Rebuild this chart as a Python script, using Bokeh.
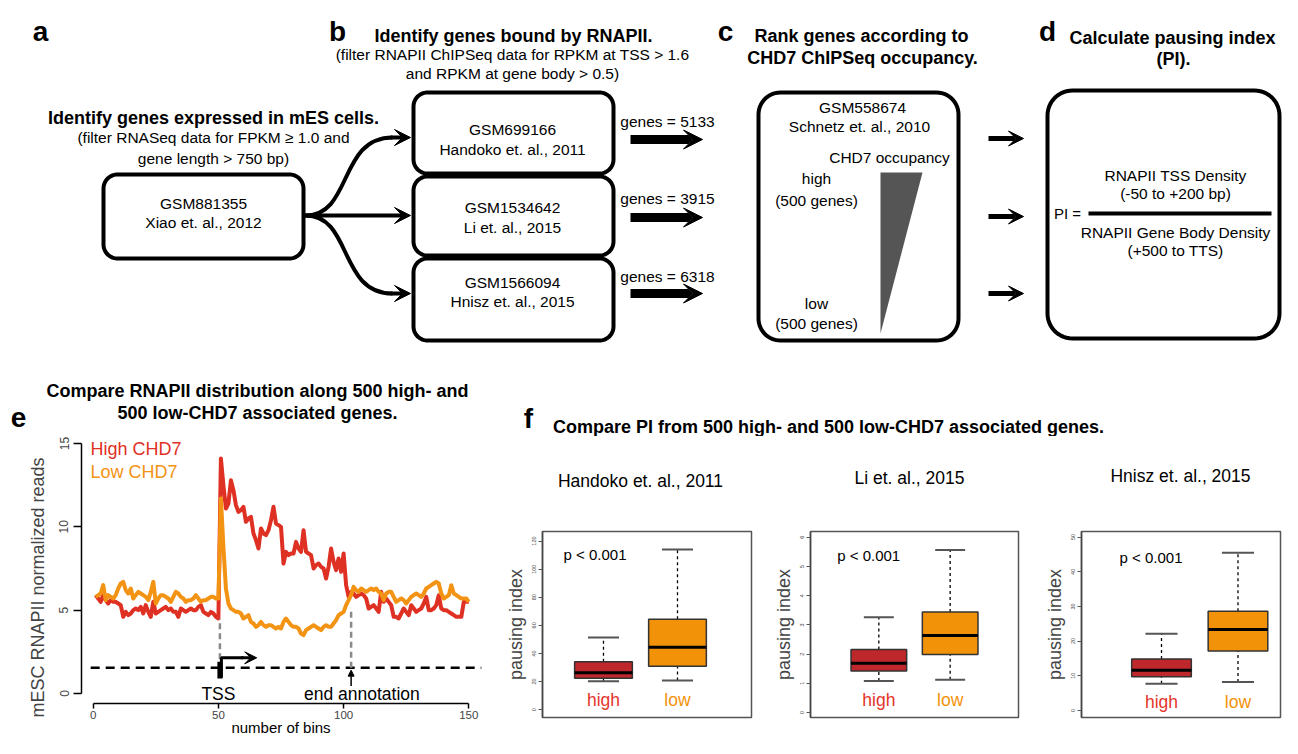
import numpy as np
from bokeh.plotting import figure
from bokeh.layouts import column, row
from bokeh.models import Range1d, Arrow, VeeHead, NormalHead, FixedTicker
from bokeh.embed import file_html
from bokeh.resources import INLINE
from bokeh.core.properties import value

FONT = "Liberation Sans"
RED = "#DF3024"
ORANGE = "#F39313"
BOX_HIGH = "#BE272B"
BOX_LOW = "#F29209"
TXT_HIGH = "#E4352B"

# ---------------- data: panel a-d ----------------
rna_dataset = ["GSM881355", "Xiao et. al., 2012"]
pol2_ids = ["GSM699166", "GSM1534642", "GSM1566094"]
pol2_refs = ["Handoko et. al., 2011", "Li et. al., 2015", "Hnisz et. al., 2015"]
gene_counts = [5133, 3915, 6318]

# ---------------- data: panel e ----------------
bins = list(range(1, 151))
high_chd7 = [
    5.9, 5.7, 5.5, 5.9, 5.6, 5.4, 5.6, 5.5, 5.5, 5.4,
    5.3, 4.6, 4.9, 4.7, 4.8, 5.0, 5.1, 5.0, 5.2, 4.8,
    5.3, 4.9, 4.6, 5.5, 4.8, 4.9, 5.0, 5.1, 5.2, 5.0,
    5.1, 4.9, 4.9, 4.6, 5.1, 5.0, 4.9, 5.0, 5.1, 5.0,
    5.0, 5.2, 5.3, 4.9, 4.8, 4.7, 4.9, 4.8, 4.6, 4.5,
    14.1, 12.5, 11.1, 11.4, 12.8, 12.2, 11.3, 10.9, 11.0, 11.2,
    10.3, 10.5, 10.6, 9.6, 9.2, 8.7, 9.9, 9.6, 9.5, 9.8,
    10.4, 11.2, 10.2, 10.1, 10.0, 7.8, 8.5, 8.3, 8.4, 8.4,
    9.1, 8.7, 8.5, 9.8, 8.5, 8.4, 8.3, 7.5, 7.7, 7.8,
    7.6, 7.5, 6.9, 7.6, 8.7, 7.9, 7.4, 8.1, 7.3, 8.4,
    6.5, 5.8, 6.1, 6.0, 5.8, 5.9, 6.0, 5.9, 5.7, 5.1,
    5.2, 5.3, 5.1, 4.9, 6.1, 5.5, 5.7, 5.5, 5.3, 4.6,
    4.6, 4.5, 4.8, 5.1, 4.9, 4.7, 5.3, 5.1, 4.9, 5.0,
    5.1, 5.4, 5.8, 5.0, 5.0, 5.1, 5.3, 5.9, 5.1, 5.0,
    5.0, 4.9, 4.8, 4.7, 4.6, 4.6, 4.6, 5.5, 5.5, 5.5,
]
low_chd7 = [
    5.8, 5.9, 6.0, 6.5, 5.6, 5.9, 5.8, 5.7, 5.9, 6.3,
    6.6, 6.7, 6.2, 6.0, 6.3, 5.7, 5.9, 6.1, 6.0, 5.9,
    5.8, 5.6, 6.1, 6.7, 5.4, 5.7, 5.9, 5.9, 5.8, 5.7,
    5.5, 5.8, 6.1, 6.0, 5.8, 5.7, 5.5, 5.6, 5.6, 5.7,
    5.9, 5.7, 5.5, 5.6, 5.6, 5.7, 5.8, 5.8, 5.7, 5.7,
    11.7, 8.8, 6.3, 5.4, 5.1, 5.0, 4.9, 4.9, 4.8, 4.5,
    4.6, 4.7, 4.3, 4.2, 4.0, 4.1, 4.3, 4.1, 4.0, 4.1,
    4.1, 4.0, 3.9, 4.0, 3.9, 4.3, 4.5, 4.3, 4.1, 4.0,
    4.0, 3.9, 3.6, 3.5, 3.8, 3.9, 4.0, 4.1, 4.0, 3.9,
    3.8, 4.0, 4.1, 4.0, 4.0, 4.2, 4.4, 4.7, 4.8, 4.9,
    5.3, 5.6, 5.9, 6.4, 6.2, 6.1, 6.3, 6.2, 6.1, 6.2,
    6.3, 6.2, 6.3, 6.1, 6.0, 5.6, 6.0, 6.1, 6.1, 5.8,
    5.5, 5.6, 5.7, 5.6, 5.4, 5.6, 5.8, 5.9, 6.0, 5.9,
    5.8, 6.0, 6.3, 6.4, 6.5, 6.6, 6.7, 6.6, 6.0, 5.7,
    5.8, 5.9, 6.5, 6.0, 5.9, 5.8, 5.7, 5.7, 5.7, 5.5,
]
tss_bin = 51
end_bin = 103
baseline_level = 1.55
e_xticks = [0, 50, 100, 150]
e_yticks = [0, 5, 10, 15]

# ---------------- data: panel f ----------------
pi_datasets = ["Handoko et. al., 2011", "Li et. al., 2015", "Hnisz et. al., 2015"]
pi_groups = ["high", "low"]
pi_whisker_low = [[20.2, 20.7], [1.08, 1.12], [7.7, 8.2]]
pi_q1 = [[22.3, 30.8], [1.42, 1.99], [9.7, 17.1]]
pi_median = [[26.3, 44.4], [1.69, 2.64], [11.6, 23.3]]
pi_q3 = [[34.0, 64.4], [2.16, 3.44], [14.8, 28.6]]
pi_whisker_high = [[51.4, 114.0], [3.26, 5.57], [22.1, 45.5]]
pi_yticks = [[0, 20, 40, 60, 80, 100, 120], [0, 1, 2, 3, 4, 5, 6], [0, 10, 20, 30, 40, 50]]
p_value_label = "p < 0.001"


# ---------------- helpers ----------------
def pixfig(x0, x1, y0, y1):
    p = figure(width=x1 - x0, height=y1 - y0, x_range=Range1d(x0, x1), y_range=Range1d(y1, y0),
               x_axis_location=None, y_axis_location=None, toolbar_location=None,
               output_backend="svg", min_border=0)
    p.outline_line_color = None
    p.grid.visible = False
    return p


def T(p, x, y, s, size=15.5, bold=False, color="black", align="center", baseline="middle"):
    p.text(x=[x], y=[y], text=[s], text_font=value(FONT), text_font_size=f"{size}px",
           text_font_style="bold" if bold else "normal", text_color=color,
           text_align=align, text_baseline=baseline)


def A(p, x0, y0, x1, y1, lw, hs):
    p.add_layout(Arrow(end=VeeHead(size=hs, fill_color="black", line_color="black", line_width=1),
                       x_start=x0, y_start=y0, x_end=x1, y_end=y1,
                       line_width=lw, line_color="black"))


def rrect(p, x0, y0, x1, y1, r, lw=4):
    xs, ys = [], []
    corners = [(x1 - r, y0 + r, -90, 0), (x1 - r, y1 - r, 0, 90),
               (x0 + r, y1 - r, 90, 180), (x0 + r, y0 + r, 180, 270)]
    for cx, cy, a0, a1 in corners:
        for a in np.linspace(np.radians(a0), np.radians(a1), 14):
            xs.append(cx + r * np.cos(a))
            ys.append(cy + r * np.sin(a))
    p.patch(xs, ys, fill_color=None, line_color="black", line_width=lw, line_join="round")


# ---------------- top diagram (a-d) + headers ----------------
top = pixfig(0, 1282, 0, 436)

for letter, lx in zip(["a", "b", "c", "d"], [40, 337, 725, 1047]):
    T(top, lx, 31, letter, size=28, bold=True, baseline="alphabetic")

# a
T(top, 213, 117, "Identify genes expressed in mES cells.", 18, bold=True)
T(top, 213, 137, "(filter RNASeq data for FPKM \u2265 1.0 and")
T(top, 213, 158, "gene length > 750 bp)")
rrect(top, 103, 174, 303, 258, 14)
T(top, 203, 203, rna_dataset[0])
T(top, 203, 222, rna_dataset[1])
top.bezier(x0=[305, 305], y0=[215, 215], x1=[392, 392], y1=[137, 293],
           cx0=[352, 352], cy0=[215, 215], cx1=[338, 338], cy1=[137, 293],
           line_width=4, line_color="black")
A(top, 390, 137, 410, 137, 4, 16)
A(top, 303, 215, 410, 215, 4, 16)
A(top, 390, 293, 410, 293, 4, 16)

# b
T(top, 513, 35, "Identify genes bound by RNAPII.", 18, bold=True)
T(top, 512, 54, "(filter RNAPII ChIPSeq data for RPKM at TSS > 1.6")
T(top, 512, 73, "and RPKM at gene body > 0.5)")
b_boxes = [(92, 173), (176, 255), (258, 340)]
b_text_y = [(129, 149), (207, 227), (282, 301)]
arrow_y = [139, 217, 293]
count_y = [121, 198, 276]
for i in range(3):
    rrect(top, 413, b_boxes[i][0], 613, b_boxes[i][1], 14)
    T(top, 512, b_text_y[i][0], pol2_ids[i])
    T(top, 512, b_text_y[i][1], pol2_refs[i])
    T(top, 667, count_y[i], f"genes = {gene_counts[i]}")
    A(top, 630, arrow_y[i], 702, arrow_y[i], 9, 19)

# c
T(top, 861, 35, "Rank genes according to", 18, bold=True)
T(top, 862, 57, "CHD7 ChIPSeq occupancy.", 18, bold=True)
rrect(top, 758, 92, 958, 340, 22)
T(top, 862, 107, "GSM558674")
T(top, 859, 126, "Schnetz et. al., 2010")
T(top, 889, 157, "CHD7 occupancy")
T(top, 816, 178, "high")
T(top, 816, 200, "(500 genes)")
T(top, 816, 303, "low")
T(top, 816, 323, "(500 genes)")
top.patch([880, 922, 880], [172, 172, 333], fill_color="#555555", line_color=None)
for yy in [138, 216, 293]:
    A(top, 988, yy, 1023, yy, 5, 15)

# d
T(top, 1172, 37, "Calculate pausing index", 18, bold=True)
T(top, 1173, 58, "(PI).", 18, bold=True)
rrect(top, 1047, 90, 1279, 338, 25)
T(top, 1175, 175, "RNAPII TSS Density")
T(top, 1175, 193, "(-50 to +200 bp)")
T(top, 1067, 213, "PI =", 15)
top.segment(x0=[1088], y0=[213], x1=[1271], y1=[213], line_width=4, line_color="black")
T(top, 1175, 232, "RNAPII Gene Body Density")
T(top, 1175, 250, "(+500 to TTS)")

# e / f headers
T(top, 18, 417, "e", size=28, bold=True, baseline="alphabetic")
T(top, 257, 390, "Compare RNAPII distribution along 500 high- and", 18, bold=True)
T(top, 257, 412, "500 low-CHD7 associated genes.", 18, bold=True)
T(top, 528, 418, "f", size=28, bold=True, baseline="alphabetic")
T(top, 828, 426, "Compare PI from 500 high- and 500 low-CHD7 associated genes.", 18, bold=True)


# ---------------- panel e ----------------
E_TOP, E_BOT = 436, 738
e_yr = (-2.7, 15.42)          # frame spans the whole figure height (436..738)


def e_y(py):
    return e_yr[1] - (py - E_TOP) / (E_BOT - E_TOP) * (e_yr[1] - e_yr[0])


pe = figure(width=500, height=E_BOT - E_TOP, x_range=Range1d(-4.67, 158.66),
            y_range=Range1d(*e_yr), toolbar_location=None, output_backend="svg",
            min_border_left=81, min_border_right=10, min_border_top=0, min_border_bottom=0)
pe.outline_line_color = None
pe.grid.visible = False

pe.line(bins, high_chd7, line_color=RED, line_width=4, line_join="round")
pe.line(bins, low_chd7, line_color=ORANGE, line_width=4, line_join="round")

pe.segment(x0=[-1], y0=[baseline_level], x1=[155], y1=[baseline_level],
           line_color="black", line_width=2.5, line_dash="9 6")
pe.segment(x0=[tss_bin - 0.4, end_bin], y0=[baseline_level + 0.5, baseline_level],
           x1=[tss_bin - 0.4, end_bin], y1=[4.5, 5.0],
           line_color="#8a8a8a", line_width=2.5, line_dash="6 4")
pe.quad(left=[tss_bin - 1.4], right=[tss_bin + 0.6], bottom=[0.9], top=[1.9],
        fill_color="black", line_color=None)
pe.line([tss_bin + 0.2, tss_bin + 0.2, tss_bin + 9], [0.95, 2.14, 2.14], line_color="black",
        line_width=3)
pe.add_layout(Arrow(end=VeeHead(size=12, fill_color="black", line_color="black"),
                    x_start=tss_bin + 8, y_start=2.14, x_end=tss_bin + 14.3, y_end=2.14,
                    line_width=3, line_color="black"))
pe.add_layout(Arrow(end=NormalHead(size=6, fill_color="black", line_color="black"),
                    x_start=end_bin, y_start=0.45, x_end=end_bin, y_end=1.4,
                    line_width=1.5, line_color="black"))
pe.text(x=[tss_bin - 1], y=[0.0], text=["TSS"], text_font=value(FONT), text_font_size="17.5px",
        text_align="center", text_baseline="middle", text_color="black")
pe.text(x=[107.3], y=[0.0], text=["end annotation"], text_font=value(FONT),
        text_font_size="17.5px", text_align="center", text_baseline="middle", text_color="black")
pe.text(x=[-1.1, -1.1], y=[14.68, 13.28], text=["High CHD7", "Low CHD7"],
        text_color=[RED, ORANGE], text_font=value(FONT), text_font_size="18px",
        text_align="left", text_baseline="middle")
pe.text(x=[75], y=[e_y(727)], text=["number of bins"], text_font=value(FONT),
        text_font_size="15px", text_align="center", text_baseline="alphabetic",
        text_color="black")

for ax in (pe.xaxis[0], pe.yaxis[0]):
    ax.axis_line_width = 1.5
    ax.major_tick_line_width = 1.5
    ax.minor_tick_line_color = None
    ax.major_tick_in = 0
    ax.major_label_text_font = FONT
    ax.major_label_text_font_size = "12px"
    ax.axis_label_text_font = FONT
    ax.axis_label_text_font_style = "normal"
pe.xaxis[0].ticker = FixedTicker(ticks=e_xticks)
pe.xaxis[0].bounds = (0, 150)
pe.xaxis[0].fixed_location = e_y(703)
pe.xaxis[0].major_tick_out = 5
pe.xaxis[0].major_label_standoff = 2
pe.xaxis[0].major_label_text_font_size = "11.5px"
pe.yaxis[0].ticker = FixedTicker(ticks=e_yticks)
pe.yaxis[0].bounds = (0, 15)
pe.yaxis[0].major_tick_out = 8
pe.yaxis[0].major_label_standoff = 5
pe.yaxis[0].major_label_orientation = "vertical"
pe.yaxis[0].axis_label = "mESC RNAPII normalized reads"
pe.yaxis[0].axis_label_text_font_size = "18px"
pe.yaxis[0].axis_label_standoff = 9


# ---------------- panel f ----------------
fhead = pixfig(500, 1282, 436, 495)
sub_x = [640, 909, 1180]
sub_y = [480, 477, 475]
for i in range(3):
    T(fhead, sub_x[i], sub_y[i], pi_datasets[i], 17.5)

f_fig_x = [(500, 770), (770, 1040), (1040, 1282)]
f_frame_x = [(542, 751), (808, 1018), (1081, 1280)]
f_frame_y = [(531, 719), (530, 719), (527, 717)]
f_fig_y = (495, 738)
f_xr = [(0.176, 3.0), (0.042, 2.958), (-0.046, 2.556)]
f_yr = [(-5.6, 126.8), (-0.17, 6.2), (-2.06, 51.6)]
p_text_px = [(563, 554), (835, 554), (1119, 554)]
grp_label_py = 701

box_figs = []
for i in range(3):
    fx0, fx1 = f_fig_x[i]
    fl, fr = f_frame_x[i]
    ft, fb = f_frame_y[i]
    xs, xe = f_xr[i]
    ys, ye = f_yr[i]

    def to_x(px):
        return xs + (px - fl) / (fr - fl) * (xe - xs)

    def to_y(py):
        return ye - (py - ft) / (fb - ft) * (ye - ys)

    pf = figure(width=fx1 - fx0, height=f_fig_y[1] - f_fig_y[0],
                x_range=Range1d(xs, xe), y_range=Range1d(ys, ye),
                x_axis_location=None,
                toolbar_location=None, output_backend="svg",
                min_border_left=fl - fx0, min_border_right=fx1 - fr,
                min_border_top=ft - f_fig_y[0], min_border_bottom=f_fig_y[1] - fb)
    pf.grid.visible = False
    pf.outline_line_color = "#555555"
    pf.outline_line_width = 1.5

    xpos = [1, 2]
    bw = 0.78
    cw = 0.42
    lo, q1, md, q3, hi = (pi_whisker_low[i], pi_q1[i], pi_median[i], pi_q3[i], pi_whisker_high[i])
    pf.segment(x0=xpos, y0=q3, x1=xpos, y1=hi, line_color="black", line_width=1.3, line_dash="3 3")
    pf.segment(x0=xpos, y0=lo, x1=xpos, y1=q1, line_color="black", line_width=1.3, line_dash="3 3")
    pf.segment(x0=[x - cw / 2 for x in xpos], y0=hi, x1=[x + cw / 2 for x in xpos], y1=hi,
               line_color="#555555", line_width=2)
    pf.segment(x0=[x - cw / 2 for x in xpos], y0=lo, x1=[x + cw / 2 for x in xpos], y1=lo,
               line_color="#555555", line_width=2)
    pf.vbar(x=xpos, width=bw, bottom=q1, top=q3, fill_color=[BOX_HIGH, BOX_LOW],
            line_color="#333333", line_width=1.5)
    pf.segment(x0=[x - bw / 2 for x in xpos], y0=md, x1=[x + bw / 2 for x in xpos], y1=md,
               line_color="black", line_width=3)

    pf.text(x=[to_x(p_text_px[i][0])], y=[to_y(p_text_px[i][1])], text=[p_value_label],
            text_font=value(FONT), text_font_size="15px", text_align="left",
            text_baseline="middle", text_color="black")
    pf.text(x=xpos, y=[to_y(grp_label_py)] * 2, text=pi_groups, text_color=[TXT_HIGH, BOX_LOW],
            text_font=value(FONT), text_font_size="17.5px", text_align="center",
            text_baseline="middle")

    ya = pf.yaxis[0]
    ya.ticker = FixedTicker(ticks=pi_yticks[i])
    ya.axis_line_color = "#444444"
    ya.axis_line_width = 1.5
    ya.major_tick_line_color = "#555555"
    ya.major_tick_out = 4
    ya.major_tick_in = 0
    ya.minor_tick_line_color = None
    ya.major_label_orientation = "vertical"
    ya.major_label_text_font = FONT
    ya.major_label_text_font_size = "5.5px"
    ya.major_label_text_color = "#444444"
    ya.major_label_standoff = 2
    ya.axis_label = "pausing index"
    ya.axis_label_text_font = FONT
    ya.axis_label_text_font_size = "18px"
    ya.axis_label_text_font_style = "normal"
    ya.axis_label_standoff = 4
    box_figs.append(pf)

layout = column(top, row(pe, column(fhead, row(*box_figs))))
open("out.html", "w").write(file_html(layout, INLINE))
